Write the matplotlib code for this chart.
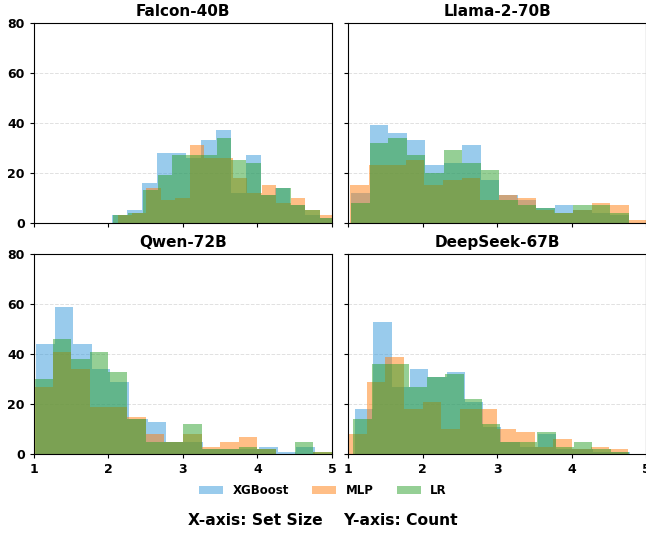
import numpy as np
import matplotlib
matplotlib.use('Agg')
from matplotlib import pyplot as plt
from matplotlib.patches import Patch


models = ['Falcon-40B', 'Llama-2-70B', 'Qwen-72B', 'DeepSeek-67B']
methods = ['XGBoost', 'MLP', 'LR']
colors = ['#3498db', '#ff7f0e', '#2ca02c']

# (bin low, bin high) and counts per bin
falcon_xgb_range = (2.046, 5.04)
falcon_xgb = [3, 5, 16, 28, 28, 26, 33, 37, 12, 27, 11, 14, 7, 3, 2]
falcon_mlp_range = (2.122, 5.027)
falcon_mlp = [3, 4, 14, 9, 10, 31, 26, 26, 18, 12, 15, 8, 10, 5, 3]
falcon_lr_range = (2.064, 5.04)
falcon_lr = [3, 4, 13, 19, 27, 27, 27, 34, 25, 24, 11, 14, 7, 5, 2]

llama_xgb_range = (1.045, 4.767)
llama_xgb = [12, 39, 36, 33, 23, 24, 31, 17, 11, 9, 6, 7, 5, 4, 3]
llama_mlp_range = (1.027, 5.018)
llama_mlp = [15, 23, 23, 25, 15, 17, 18, 9, 11, 10, 5, 4, 5, 8, 7, 1]
llama_lr_range = (1.045, 4.767)
llama_lr = [8, 32, 34, 27, 20, 29, 24, 21, 9, 7, 6, 4, 7, 7, 4]

qwen_xgb_range = (1.027, 4.772)
qwen_xgb = [44, 59, 44, 34, 29, 14, 13, 5, 5, 2, 2, 2, 3, 1, 3]
qwen_mlp_range = (1.0, 5.0)
qwen_mlp = [27, 41, 34, 19, 19, 15, 8, 5, 8, 3, 5, 7, 2, 0, 0, 1]
qwen_lr_range = (1.0, 5.0)
qwen_lr = [30, 46, 38, 41, 33, 14, 5, 5, 12, 2, 2, 3, 2, 0, 5, 1]

deepseek_xgb_range = (1.094, 4.779)
deepseek_xgb = [18, 53, 27, 34, 31, 33, 21, 11, 5, 3, 8, 2, 2, 1, 1]
deepseek_mlp_range = (1.0, 4.757)
deepseek_mlp = [8, 29, 39, 18, 21, 10, 18, 18, 10, 9, 3, 6, 2, 3, 2]
deepseek_lr_range = (1.072, 4.775)
deepseek_lr = [14, 36, 36, 27, 31, 32, 22, 12, 5, 5, 9, 3, 5, 2, 1]

x_ticks = [1, 2, 3, 4, 5]
y_ticks = [0, 20, 40, 60, 80]

panel_data = {
    'Falcon-40B': [(falcon_xgb_range, falcon_xgb), (falcon_mlp_range, falcon_mlp), (falcon_lr_range, falcon_lr)],
    'Llama-2-70B': [(llama_xgb_range, llama_xgb), (llama_mlp_range, llama_mlp), (llama_lr_range, llama_lr)],
    'Qwen-72B': [(qwen_xgb_range, qwen_xgb), (qwen_mlp_range, qwen_mlp), (qwen_lr_range, qwen_lr)],
    'DeepSeek-67B': [(deepseek_xgb_range, deepseek_xgb), (deepseek_mlp_range, deepseek_mlp), (deepseek_lr_range, deepseek_lr)],
}


def draw_panel(ax, name, show_x, show_y):
    for (rng, counts), color, label in zip(panel_data[name], colors, methods):
        edges = np.linspace(rng[0], rng[1], len(counts) + 1)
        ax.hist(edges[:-1], bins=edges, weights=counts, color=color, alpha=0.5, label=label)

    ax.set_xlim(1, 5)
    ax.set_ylim(0, 80)
    ax.set_xticks(x_ticks)
    ax.set_yticks(y_ticks)
    ax.set_title(name, fontsize=11, fontweight='bold', pad=5)
    ax.grid(True, axis='y', linestyle='--', color='#cccccc', alpha=0.6, linewidth=0.7)
    ax.set_axisbelow(True)
    ax.tick_params(labelsize=9, length=3)
    for lab in ax.get_xticklabels() + ax.get_yticklabels():
        lab.set_fontweight('bold')
    if not show_x:
        ax.tick_params(labelbottom=False)
    if not show_y:
        ax.tick_params(labelleft=False)


fig = plt.figure(figsize=(6.46, 5.38), dpi=100)

positions = [
    [0.0526, 0.5864, 0.4613, 0.3708],
    [0.5387, 0.5864, 0.4613, 0.3708],
    [0.0526, 0.1561, 0.4613, 0.3717],
    [0.5387, 0.1561, 0.4613, 0.3717],
]

for i, name in enumerate(models):
    ax = fig.add_axes(positions[i])
    draw_panel(ax, name, show_x=i >= 2, show_y=i % 2 == 0)

handles = [Patch(facecolor=c, alpha=0.5) for c in colors]
fig.legend(handles, methods, loc='center', bbox_to_anchor=(0.5, 0.088), ncol=3,
           frameon=False, prop={'weight': 'bold', 'size': 8.5})

fig.text(0.5, 0.032, 'X-axis: Set Size    Y-axis: Count', ha='center', va='center',
         fontsize=11.2, fontweight='bold')

fig.savefig('out.png', dpi=100)
